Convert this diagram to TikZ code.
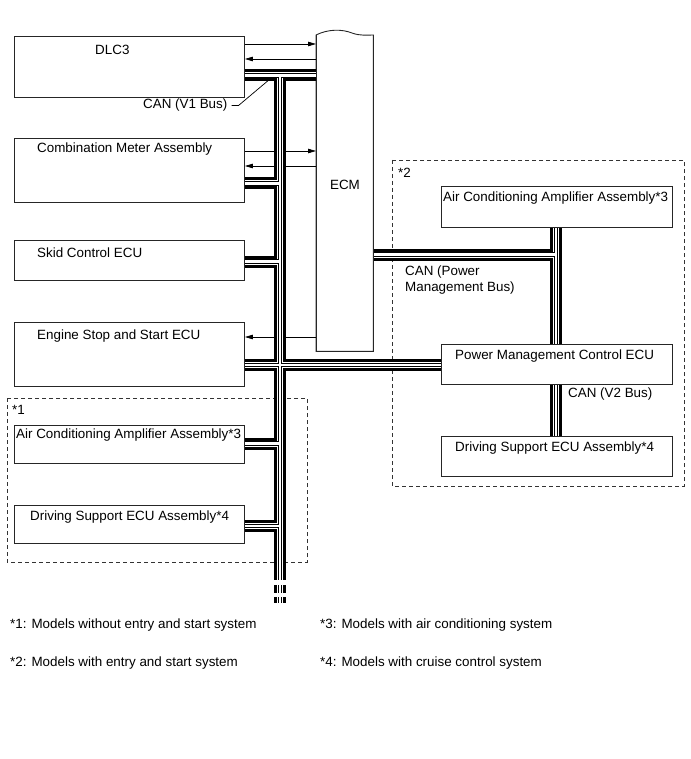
\documentclass[tikz,border=0pt]{standalone}
\usepackage{fontspec}
\setmainfont{Liberation Sans}
\usetikzlibrary{arrows.meta,calc}
\begin{document}
\begin{tikzpicture}[x=1pt,y=-1pt,
  box/.style={draw=black!85,line width=0.9pt,fill=white,inner sep=0pt,anchor=north west},
  txt/.style={inner sep=0pt,anchor=west,yshift=-1.5pt,font=\fontsize{13.4}{15}\selectfont},
  arr/.style={line width=0.8pt,-{Triangle[length=8pt,width=4.5pt]}},
  region/.style={draw=black!80,line width=0.8pt,dash pattern=on 4pt off 3pt}]
\useasboundingbox[fill=white] (0,0) rectangle (690,759);

% dashed regions
\draw[region] (7,398) rectangle (307,562);
\draw[region] (392,160) rectangle (684,486);

% boxes
\node[box,minimum width=230,minimum height=61] (dlc) at (14,36) {};
\node[box,minimum width=230,minimum height=64] (cmb) at (14,138) {};
\node[box,minimum width=230,minimum height=40] (skid) at (14,240) {};
\node[box,minimum width=230,minimum height=64] (ess) at (14,322) {};
\node[box,minimum width=230,minimum height=38] (acl) at (14,425) {};
\node[box,minimum width=230,minimum height=38] (dsl) at (14,505) {};
\node[box,minimum width=231,minimum height=41] (acr) at (441,186) {};
\node[box,minimum width=231,minimum height=40] (pmc) at (441,344) {};
\node[box,minimum width=231,minimum height=40] (dsr) at (441,436) {};
\node[inner sep=0pt,minimum width=57,minimum height=316,anchor=north west] (ecm) at (316,35) {};

% ECM outline with torn top
\draw[line width=0.9pt,draw=black!85] (ecm.north west) .. controls (328,29) and (342,29) .. (352,33)
  .. controls (360,36) and (367,35) .. (ecm.north east) -- (ecm.south east) -- (ecm.south west) -- cycle;

% arrows
\coordinate (a1) at (0,44); \coordinate (a2) at (0,59);
\coordinate (a3) at (0,151); \coordinate (a4) at (0,166);
\coordinate (a5) at (0,337);
\draw[arr] (dlc.east |- a1) -- (ecm.west |- a1);
\draw[arr] (ecm.west |- a2) -- (dlc.east |- a2);
\draw[arr] (cmb.east |- a3) -- (ecm.west |- a3);
\draw[arr] (ecm.west |- a4) -- (cmb.east |- a4);
\draw[arr] (ecm.west |- a5) -- (ess.east |- a5);

% buses
\coordinate (bx) at (280,0);
\coordinate (rx) at (556,0);
\coordinate (b1) at (0,75.5);
\coordinate (b2) at (0,183.5);
\coordinate (b3) at (0,261.5);
\coordinate (b4) at (0,365);
\coordinate (b5) at (0,443.5);
\coordinate (b6) at (0,526);
\coordinate (b7) at (0,254.5);
\foreach \w/\c in {12/black,6/white,4.2/black,2.2/white}{
  \draw[line width=\w pt,draw=\c]
    (dlc.east |- b1) -- (ecm.west |- b1)
    (bx |- b1) -- (280,580)
    (cmb.east |- b2) -- (bx |- b2)
    (skid.east |- b3) -- (bx |- b3)
    (ess.east |- b4) -- (pmc.west |- b4)
    (acl.east |- b5) -- (bx |- b5)
    (dsl.east |- b6) -- (bx |- b6)
    (ecm.east |- b7) -- (rx |- b7)
    (acr.south -| rx) -- (pmc.north -| rx)
    (pmc.south -| rx) -- (dsr.north -| rx)
    (280,585) -- (280,593)
    (280,597) -- (280,603);
}

% redraw box outlines on top of bus ends
\foreach \n in {dlc,cmb,skid,ess,acl,dsl,acr,pmc,dsr}{
  \draw[draw=black!85,line width=0.9pt] (\n.north west) rectangle (\n.south east);
}
\draw[line width=0.9pt,draw=black!85] (ecm.north east) -- (ecm.south east) -- (ecm.south west) -- (ecm.north west);

% texts
\node[txt] (t1) at (95,48) {DLC3};
\node[txt] (t2) at (37,148) {Combination Meter Assembly};
\node[txt] (t3) at (37,251) {Skid Control ECU};
\node[txt] (t4) at (37,335) {Engine Stop and Start ECU};
\node[txt] (t5) at (16,434) {Air Conditioning Amplifier Assembly*3};
\node[txt] (t6) at (30,516) {Driving Support ECU Assembly*4};
\node[txt,anchor=center] (t7) at (345,183) {ECM};
\node[txt] (t8) at (443,197) {Air Conditioning Amplifier Assembly*3};
\node[txt] (t9) at (455,355) {Power Management Control ECU};
\node[txt] (t10) at (455,447) {Driving Support ECU Assembly*4};
\node[txt] (t11) at (398,171) {*2};
\node[txt] (t12) at (12,408) {*1};
\node[txt] (can1) at (143,104) {CAN (V1 Bus)};
\node[txt] (can2) at (405,271) {CAN (Power};
\node[txt] (can3) at (405,287) {Management Bus)};
\node[txt] (can4) at (568,393) {CAN (V2 Bus)};
\coordinate (ld) at (270,79);
\draw[line width=0.7pt] ($(can1.east)+(4,0)$) -- ++(7,0) -- (ld);

% footnotes
\node[txt] (f1) at (10,624) {*1: Models without entry and start system};
\node[txt] (f3) at (320,624) {*3: Models with air conditioning system};
\node[txt] (f2) at (10,662) {*2: Models with entry and start system};
\node[txt] (f4) at (320,662) {*4: Models with cruise control system};
\end{tikzpicture}
\end{document}
